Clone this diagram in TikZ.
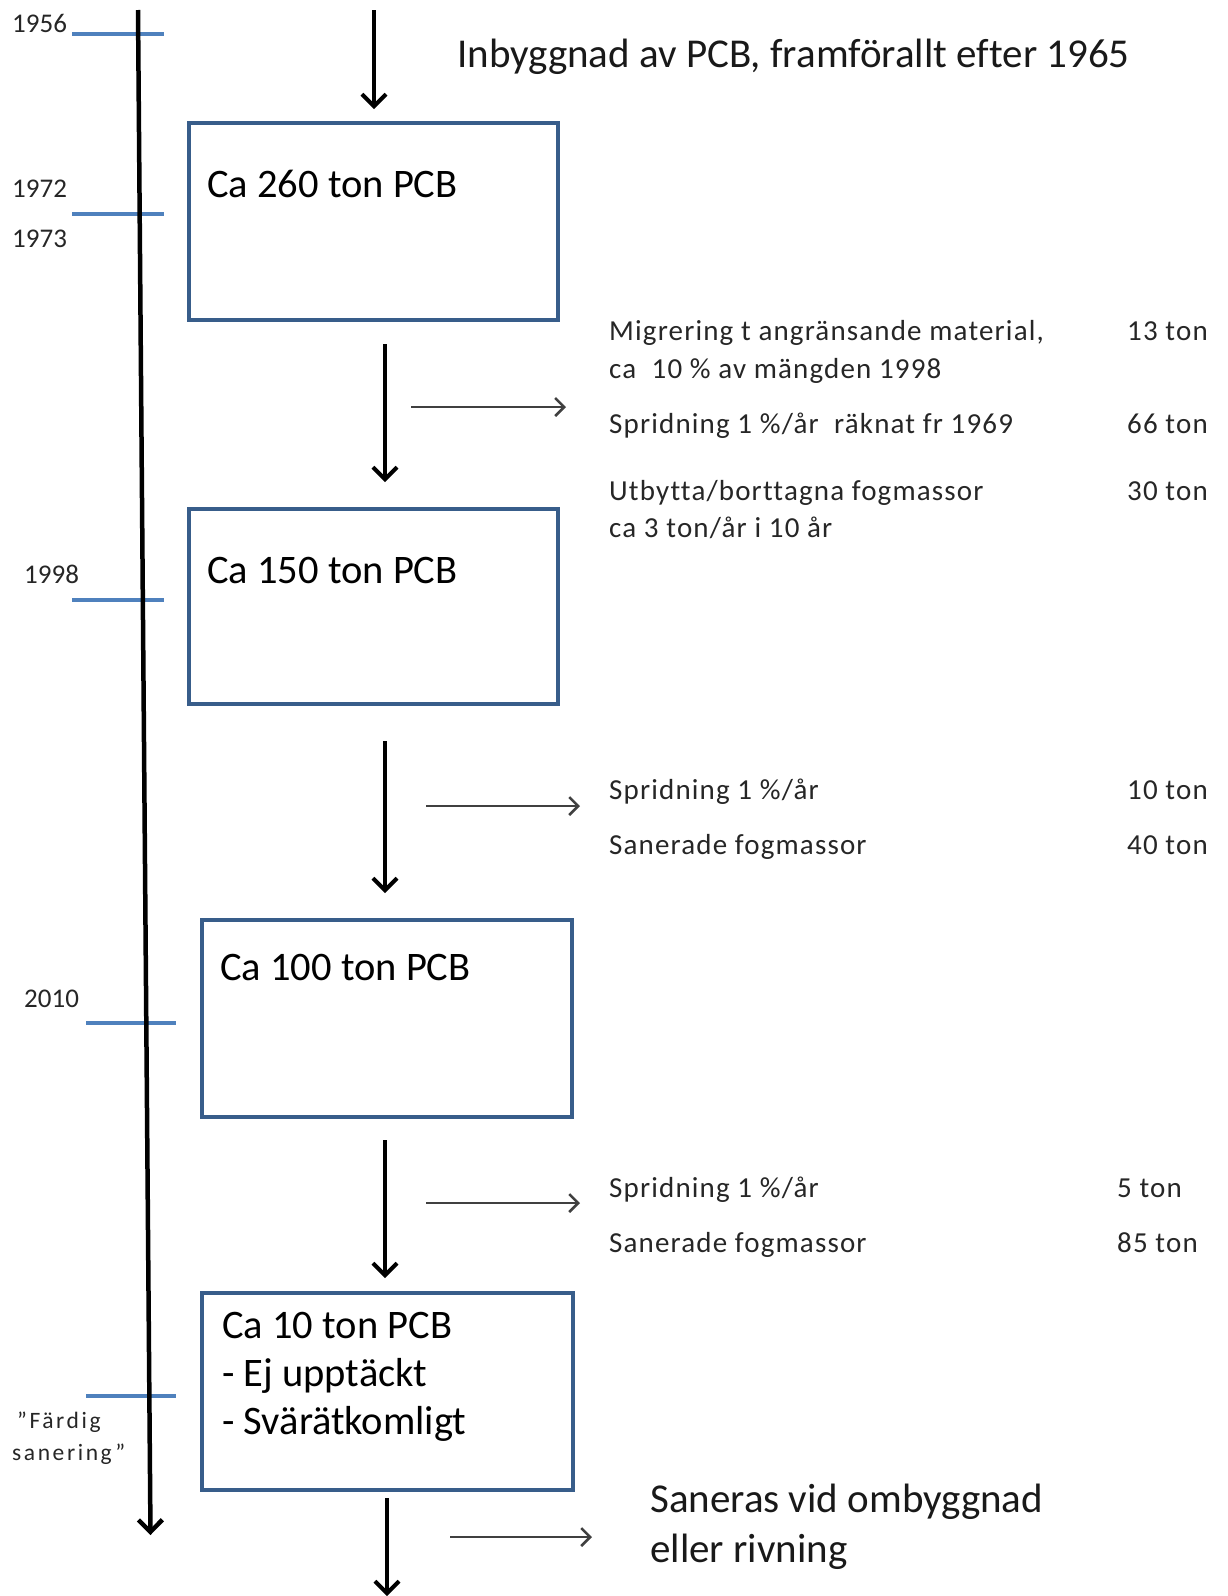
\documentclass[tikz,border=0pt]{standalone}
\usepackage{fontspec}
\setmainfont{Carlito}[Ligatures=CommonOff]
\usetikzlibrary{arrows.meta,calc}
\definecolor{boxblue}{HTML}{385D8A}
\definecolor{tickblue}{HTML}{4F81BD}
\definecolor{flowgray}{HTML}{404040}
\begin{document}
\begin{tikzpicture}[x=1pt,y=-1pt,
  pbox/.style={draw=boxblue,line width=4pt,anchor=north west,inner sep=0pt,outer sep=0pt},
  boxtext/.style={anchor=base west,inner sep=0pt,font=\fontsize{40.5}{48}\selectfont},
  bigtext/.style={anchor=base west,inner sep=0pt,font=\fontsize{41}{48}\selectfont,text=black!90},
  sidetext/.style={anchor=base west,inner sep=0pt,font=\fontsize{29}{32}\selectfont\addfontfeatures{LetterSpace=4},text=black!85},
  yeartext/.style={anchor=base west,inner sep=0pt,font=\fontsize{27}{30}\selectfont,text=black!85},
  smalltext/.style={anchor=base west,inner sep=0pt,font=\fontsize{23.5}{26}\selectfont\addfontfeatures{LetterSpace=11},text=black!85},
  flow/.style={line width=4pt,-{Straight Barb[length=12pt,width=24pt]}},
  sideflow/.style={line width=2.5pt,draw=flowgray,-{Straight Barb[length=9pt,width=18pt]}},
  tickline/.style={line width=4pt,draw=tickblue},
]
\useasboundingbox (0,0) rectangle (1228,1596);

% boxes
\node[pbox,minimum width=369pt,minimum height=197pt] (b1) at (189,123) {};
\node[pbox,minimum width=369pt,minimum height=195pt] (b2) at (189,509) {};
\node[pbox,minimum width=370pt,minimum height=197pt] (b3) at (202,920) {};
\node[pbox,minimum width=371pt,minimum height=197pt] (b4) at (202,1293) {};

\node[boxtext] (t1) at (207,197) {Ca 260 ton PCB};
\node[boxtext] (t2) at (207,583) {Ca 150 ton PCB};
\node[boxtext] (t3) at (220,980) {Ca 100 ton PCB};
\node[boxtext] (t4a) at (222,1338) {Ca 10 ton PCB};
\node[boxtext] (t4b) at (222,1386) {- Ej upptäckt};
\node[boxtext] (t4c) at (222,1434) {- Svärätkomligt};

% top and bottom texts
\node[bigtext] (top) at (457,67) {Inbyggnad av PCB, framförallt efter 1965};
\node[bigtext] (bot1) at (650,1512) {Saneras vid ombyggnad};
\node[bigtext] (bot2) at (650,1562) {eller rivning};

% side texts
\node[sidetext] (s1) at (609,340) {Migrering t angränsande material,};
\node[sidetext] (s2) at (609,378) {ca~~10 \% av mängden 1998};
\node[sidetext] (s3) at (609,433) {Spridning 1 \%/år~~räknat fr 1969};
\node[sidetext] (s4) at (609,500) {Utbytta/borttagna fogmassor};
\node[sidetext] (s5) at (609,537) {ca 3 ton/år i 10 år};
\node[sidetext] (v1) at (1127,340) {13 ton};
\node[sidetext] (v2) at (1127,433) {66 ton};
\node[sidetext] (v3) at (1127,500) {30 ton};

\node[sidetext] (s6) at (609,799) {Spridning 1 \%/år};
\node[sidetext] (s7) at (609,854) {Sanerade fogmassor};
\node[sidetext] (v4) at (1127,799) {10 ton};
\node[sidetext] (v5) at (1127,854) {40 ton};

\node[sidetext] (s8) at (609,1197) {Spridning 1 \%/år};
\node[sidetext] (s9) at (609,1252) {Sanerade fogmassor};
\node[sidetext] (v6) at (1117,1197) {5 ton};
\node[sidetext] (v7) at (1117,1252) {85 ton};

% timeline labels
\node[yeartext] (y1) at (12,32) {1956};
\node[yeartext] (y2) at (12,197) {1972};
\node[yeartext] (y3) at (12,247) {1973};
\node[yeartext] (y4) at (24,583) {1998};
\node[yeartext] (y5) at (24,1007) {2010};
\node[smalltext] (y6) at (17,1428) {”Färdig};
\node[smalltext] (y7) at (12,1460) {sanering”};

% ticks
\coordinate (k1a) at (72,34);   \coordinate (k1b) at (164,34);
\coordinate (k2a) at (72,214);  \coordinate (k2b) at (164,214);
\coordinate (k3a) at (72,600);  \coordinate (k3b) at (164,600);
\coordinate (k4a) at (86,1023); \coordinate (k4b) at (176,1023);
\coordinate (k5a) at (86,1396); \coordinate (k5b) at (176,1396);
\draw[tickline] (k1a) -- (k1b);
\draw[tickline] (k2a) -- (k2b);
\draw[tickline] (k3a) -- (k3b);
\draw[tickline] (k4a) -- (k4b);
\draw[tickline] (k5a) -- (k5b);

% timeline
\coordinate (tl0) at (138,10);
\coordinate (tl1) at (150.5,1535);
\draw[flow,line width=4.5pt] (tl0) -- (tl1);

% main flow arrows
\coordinate (a0s) at (374,10);   \coordinate (a0e) at (374,109);
\coordinate (a1s) at (385,344);  \coordinate (a1e) at (385,482);
\coordinate (a2s) at (385,741);  \coordinate (a2e) at (385,893);
\coordinate (a3s) at (385,1140); \coordinate (a3e) at (385,1278);
\coordinate (a4s) at (387,1498); \coordinate (a4e) at (387,1596);
\draw[flow] (a0s) -- (a0e);
\draw[flow] (a1s) -- (a1e);
\draw[flow] (a2s) -- (a2e);
\draw[flow] (a3s) -- (a3e);
\draw[flow] (a4s) -- (a4e);

% side arrows
\coordinate (h1s) at (411,407);  \coordinate (h1e) at (566,407);
\coordinate (h2s) at (426,806);  \coordinate (h2e) at (580,806);
\coordinate (h3s) at (426,1203); \coordinate (h3e) at (580,1203);
\coordinate (h4s) at (450,1537); \coordinate (h4e) at (592,1537);
\draw[sideflow] (h1s) -- (h1e);
\draw[sideflow] (h2s) -- (h2e);
\draw[sideflow] (h3s) -- (h3e);
\draw[sideflow] (h4s) -- (h4e);
\end{tikzpicture}
\end{document}
